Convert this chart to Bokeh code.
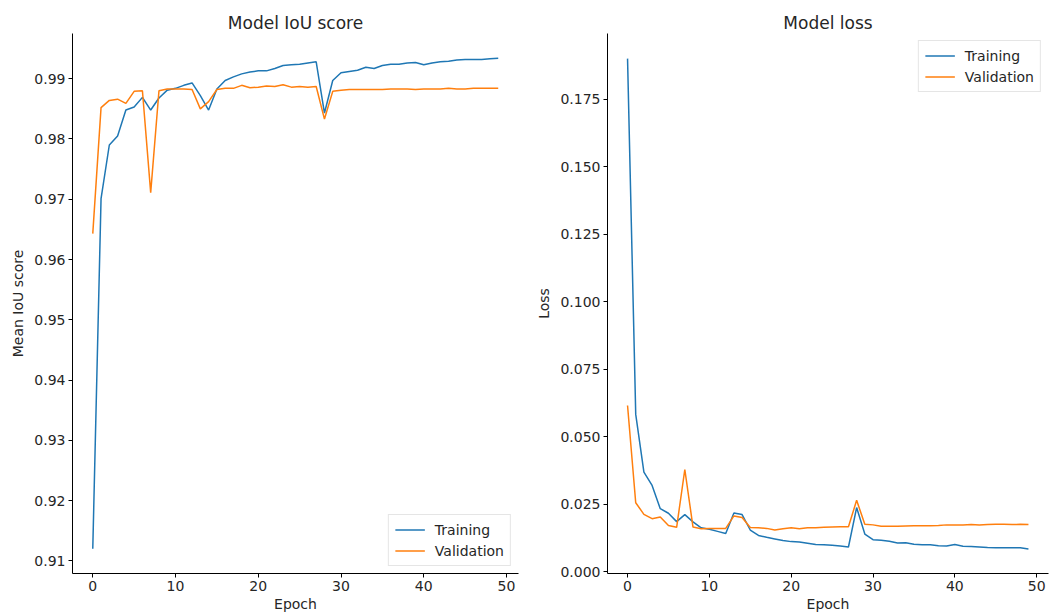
from bokeh.plotting import figure
from bokeh.layouts import row
from bokeh.models import Range1d, FixedTicker, NumeralTickFormatter, Legend, LegendItem
from bokeh.embed import file_html
from bokeh.resources import INLINE

epochs = list(range(50))

iou_train = [0.9120, 0.9701, 0.9790, 0.9805, 0.9848, 0.9853, 0.9869, 0.9848, 0.9868, 0.9881,
             0.9884, 0.9889, 0.9893, 0.9872, 0.9848, 0.9883, 0.9897, 0.9903, 0.9908, 0.9911,
             0.9913, 0.9913, 0.9917, 0.9922, 0.9923, 0.9924, 0.9926, 0.9928, 0.9843, 0.9897,
             0.9910, 0.9912, 0.9914, 0.9919, 0.9917, 0.9922, 0.9924, 0.9924, 0.9926, 0.9927,
             0.9923, 0.9926, 0.9928, 0.9929, 0.9931, 0.9932, 0.9932, 0.9932, 0.9933, 0.9934]
iou_val = [0.9643, 0.9852, 0.9864, 0.9866, 0.9859, 0.9879, 0.9880, 0.9711, 0.9880, 0.9883,
           0.9883, 0.9883, 0.9882, 0.9850, 0.9862, 0.9882, 0.9884, 0.9884, 0.9889, 0.9885,
           0.9886, 0.9888, 0.9887, 0.9890, 0.9886, 0.9887, 0.9886, 0.9887, 0.9833, 0.9879,
           0.9881, 0.9882, 0.9882, 0.9882, 0.9882, 0.9882, 0.9883, 0.9883, 0.9883, 0.9882,
           0.9883, 0.9883, 0.9883, 0.9884, 0.9883, 0.9883, 0.9884, 0.9884, 0.9884, 0.9884]

loss_train = [0.1900, 0.0583, 0.0369, 0.0320, 0.0234, 0.0217, 0.0186, 0.0212, 0.0185, 0.0163,
              0.0158, 0.0150, 0.0142, 0.0218, 0.0212, 0.0155, 0.0135, 0.0128, 0.0122, 0.0116,
              0.0112, 0.0111, 0.0106, 0.0101, 0.0100, 0.0099, 0.0096, 0.0092, 0.0238, 0.0140,
              0.0119, 0.0117, 0.0113, 0.0107, 0.0108, 0.0102, 0.0100, 0.0100, 0.0097, 0.0096,
              0.0101, 0.0095, 0.0094, 0.0092, 0.0090, 0.0089, 0.0089, 0.0089, 0.0089, 0.0085]
loss_val = [0.0616, 0.0256, 0.0213, 0.0197, 0.0203, 0.0172, 0.0165, 0.0379, 0.0166, 0.0160,
            0.0161, 0.0161, 0.0161, 0.0207, 0.0201, 0.0164, 0.0163, 0.0161, 0.0155, 0.0160,
            0.0163, 0.0160, 0.0163, 0.0163, 0.0165, 0.0166, 0.0167, 0.0167, 0.0265, 0.0176,
            0.0174, 0.0169, 0.0169, 0.0169, 0.0170, 0.0171, 0.0171, 0.0171, 0.0172, 0.0174,
            0.0174, 0.0174, 0.0175, 0.0174, 0.0175, 0.0176, 0.0176, 0.0175, 0.0176, 0.0175]

x_ticks = [0, 10, 20, 30, 40, 50]
iou_ticks = [0.91, 0.92, 0.93, 0.94, 0.95, 0.96, 0.97, 0.98, 0.99]
loss_ticks = [0.0, 0.025, 0.05, 0.075, 0.1, 0.125, 0.15, 0.175]

BLUE = "#1f77b4"
ORANGE = "#ff7f0e"
FONT = "DejaVu Sans"
TXT = "#262626"


def make_fig(width, ml, mr, yrange, title, ylabel, yticks, yfmt):
    p = figure(width=width, height=615, output_backend="svg", toolbar_location=None,
               x_range=Range1d(-2.45, 51.45), y_range=yrange,
               min_border_left=ml, min_border_right=mr, min_border_top=33, min_border_bottom=42)
    p.title.text = title
    p.title.align = "center"
    p.title.text_font = FONT
    p.title.text_font_size = "17px"
    p.title.text_font_style = "normal"
    p.title.text_color = TXT
    p.title.standoff = 2
    p.outline_line_color = None
    p.grid.grid_line_color = None
    for ax in (p.xaxis, p.yaxis):
        ax.axis_line_color = "black"
        ax.axis_line_width = 1
        ax.major_tick_in = 0
        ax.major_tick_out = 4
        ax.major_tick_line_color = "black"
        ax.minor_tick_line_color = None
        ax.major_label_text_font = FONT
        ax.major_label_text_font_size = "14px"
        ax.major_label_text_color = TXT
        ax.axis_label_text_font = FONT
        ax.axis_label_text_font_size = "14px"
        ax.axis_label_text_font_style = "normal"
        ax.axis_label_text_color = TXT
        ax.major_label_standoff = 3
    p.xaxis.axis_label_standoff = 2
    p.yaxis.axis_label_standoff = 5
    p.xaxis.ticker = FixedTicker(ticks=x_ticks)
    p.yaxis.ticker = FixedTicker(ticks=yticks)
    p.yaxis.formatter = NumeralTickFormatter(format=yfmt)
    p.xaxis.axis_label = "Epoch"
    p.yaxis.axis_label = ylabel
    return p


def add_lines(p, ytr, yva, loc):
    r1 = p.line(epochs, ytr, line_color=BLUE, line_width=1.5)
    r2 = p.line(epochs, yva, line_color=ORANGE, line_width=1.5)
    leg = Legend(items=[LegendItem(label="Training", renderers=[r1]),
                        LegendItem(label="Validation", renderers=[r2])],
                 location=loc)
    leg.label_text_font = FONT
    leg.label_text_font_size = "14px"
    leg.label_text_color = TXT
    leg.glyph_width = 30
    leg.glyph_height = 17
    leg.label_height = 17
    leg.label_standoff = 10
    leg.spacing = 4
    leg.padding = 6
    leg.margin = 7
    leg.border_line_color = "#cccccc"
    leg.background_fill_alpha = 0.8
    p.add_layout(leg)


p1 = make_fig(530, 72, 12, Range1d(0.9079, 0.9975), "Model IoU score", "Mean IoU score",
              iou_ticks, "0.00")
add_lines(p1, iou_train, iou_val, "bottom_right")

p2 = make_fig(529, 77, 11, Range1d(-0.0006, 0.1993), "Model loss", "Loss",
              loss_ticks, "0.000")
add_lines(p2, loss_train, loss_val, "top_right")

layout = row(p1, p2)
open("out.html", "w").write(file_html(layout, INLINE))
